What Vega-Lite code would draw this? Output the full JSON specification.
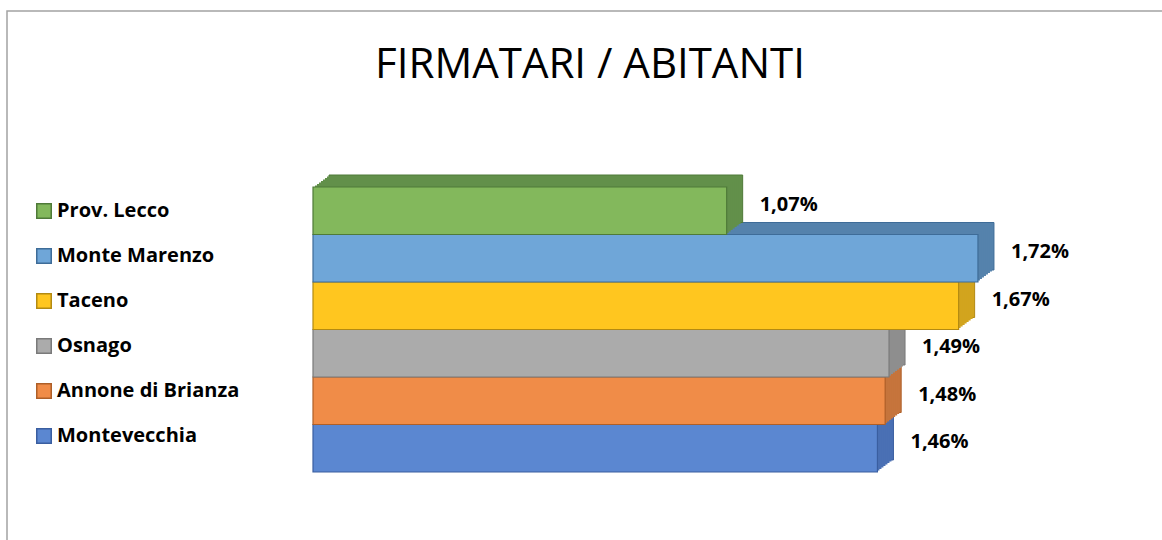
{
  "$schema": "https://vega.github.io/schema/vega-lite/v6.json",
  "autosize": {"type": "none"},
  "padding": {"left": 7, "top": 11, "right": 0, "bottom": 0},
  "width": 1170,
  "height": 540,
  "background": "white",
  "config": {"view": {"stroke": "#a3a3a3", "strokeWidth": 1.5}},
  "title": {"text": "FIRMATARI / ABITANTI", "font": "Open Sans", "fontSize": 42, "fontWeight": "normal", "color": "#000000", "anchor": "middle", "frame": "group", "offset": -76, "dx": -2},
  "data": {"values": [
    {"cat": "Montevecchia", "v": 1.46, "label": "1,46%"},
    {"cat": "Annone di Brianza", "v": 1.48, "label": "1,48%"},
    {"cat": "Osnago", "v": 1.49, "label": "1,49%"},
    {"cat": "Taceno", "v": 1.67, "label": "1,67%"},
    {"cat": "Monte Marenzo", "v": 1.72, "label": "1,72%"},
    {"cat": "Prov. Lecco", "v": 1.07, "label": "1,07%"}
  ]},
  "encoding": {
    "y": {"field": "cat", "type": "nominal", "sort": ["Prov. Lecco", "Monte Marenzo", "Taceno", "Osnago", "Annone di Brianza", "Montevecchia"], "scale": {"range": [176, 461], "paddingInner": 0, "paddingOuter": 0}, "axis": null},
    "x": {"field": "v", "type": "quantitative", "scale": {"domain": [0, 2.0693], "range": [306, 1106], "nice": false, "zero": true}, "axis": null}
  },
  "layer": [
    {"mark": {"type": "bar", "xOffset": 16, "x2Offset": 16, "yOffset": -12, "y2Offset": -12, "strokeWidth": 1},
     "encoding": {
       "color": {"field": "cat", "type": "nominal", "scale": {"domain": ["Montevecchia", "Annone di Brianza", "Osnago", "Taceno", "Monte Marenzo", "Prov. Lecco"], "range": ["#4A70B4", "#C6743C", "#8E8E8E", "#D2A41E", "#5582AC", "#62904A"]}, "legend": null},
       "stroke": {"field": "cat", "type": "nominal", "scale": {"domain": ["Prov. Lecco", "Monte Marenzo", "Taceno", "Osnago", "Annone di Brianza", "Montevecchia"], "range": ["#4F7A38", "#3E6C98", "#B38A12", "#7A7A7A", "#AE5F28", "#3A5EA0"]},
         "legend": {"orient": "none", "legendX": 27, "legendY": 190, "direction": "vertical", "title": null, "padding": 0, "symbolType": "square", "symbolSize": 210, "symbolStrokeWidth": 1.5, "labelFont": "Open Sans", "labelFontWeight": "bold", "labelFontSize": 20, "labelColor": "#000000", "labelOffset": 3, "rowPadding": 23, "labelLimit": 400}}
     }},
    {"mark": {"type": "bar", "xOffset": 14, "x2Offset": 14, "yOffset": -10.5, "y2Offset": -10.5},
     "encoding": {"color": {"field": "cat", "type": "nominal", "legend": null}}},
    {"mark": {"type": "bar", "xOffset": 12, "x2Offset": 12, "yOffset": -9, "y2Offset": -9},
     "encoding": {"color": {"field": "cat", "type": "nominal", "legend": null}}},
    {"mark": {"type": "bar", "xOffset": 10, "x2Offset": 10, "yOffset": -7.5, "y2Offset": -7.5},
     "encoding": {"color": {"field": "cat", "type": "nominal", "legend": null}}},
    {"mark": {"type": "bar", "xOffset": 8, "x2Offset": 8, "yOffset": -6, "y2Offset": -6},
     "encoding": {"color": {"field": "cat", "type": "nominal", "legend": null}}},
    {"mark": {"type": "bar", "xOffset": 6, "x2Offset": 6, "yOffset": -4.5, "y2Offset": -4.5},
     "encoding": {"color": {"field": "cat", "type": "nominal", "legend": null}}},
    {"mark": {"type": "bar", "xOffset": 4, "x2Offset": 4, "yOffset": -3, "y2Offset": -3},
     "encoding": {"color": {"field": "cat", "type": "nominal", "legend": null}}},
    {"mark": {"type": "bar", "xOffset": 2, "x2Offset": 2, "yOffset": -1.5, "y2Offset": -1.5},
     "encoding": {"color": {"field": "cat", "type": "nominal", "legend": null}}},
    {"mark": {"type": "bar", "strokeWidth": 1.2},
     "encoding": {
       "fill": {"field": "cat", "type": "nominal", "scale": {"domain": ["Prov. Lecco", "Monte Marenzo", "Taceno", "Osnago", "Annone di Brianza", "Montevecchia"], "range": ["#83B85C", "#6FA6D8", "#FFC61F", "#ABABAB", "#F08C48", "#5B87D1"]},
         "legend": {"orient": "none", "legendX": 27, "legendY": 190, "direction": "vertical", "title": null, "padding": 0, "symbolType": "square", "symbolSize": 210, "symbolStrokeWidth": 1.5, "labelFont": "Open Sans", "labelFontWeight": "bold", "labelFontSize": 20, "labelColor": "#000000", "labelOffset": 3, "rowPadding": 23, "labelLimit": 400}},
       "stroke": {"field": "cat", "type": "nominal",
         "legend": {"orient": "none", "legendX": 27, "legendY": 190, "direction": "vertical", "title": null, "padding": 0, "symbolType": "square", "symbolSize": 210, "symbolStrokeWidth": 1.5, "labelFont": "Open Sans", "labelFontWeight": "bold", "labelFontSize": 20, "labelColor": "#000000", "labelOffset": 3, "rowPadding": 23, "labelLimit": 400}}
     }},
    {"mark": {"type": "text", "align": "left", "baseline": "middle", "dx": 33, "dy": -6, "font": "Open Sans", "fontWeight": "bold", "fontSize": 20, "color": "#000000"},
     "encoding": {"text": {"field": "label", "type": "nominal"}}}
  ]
}
